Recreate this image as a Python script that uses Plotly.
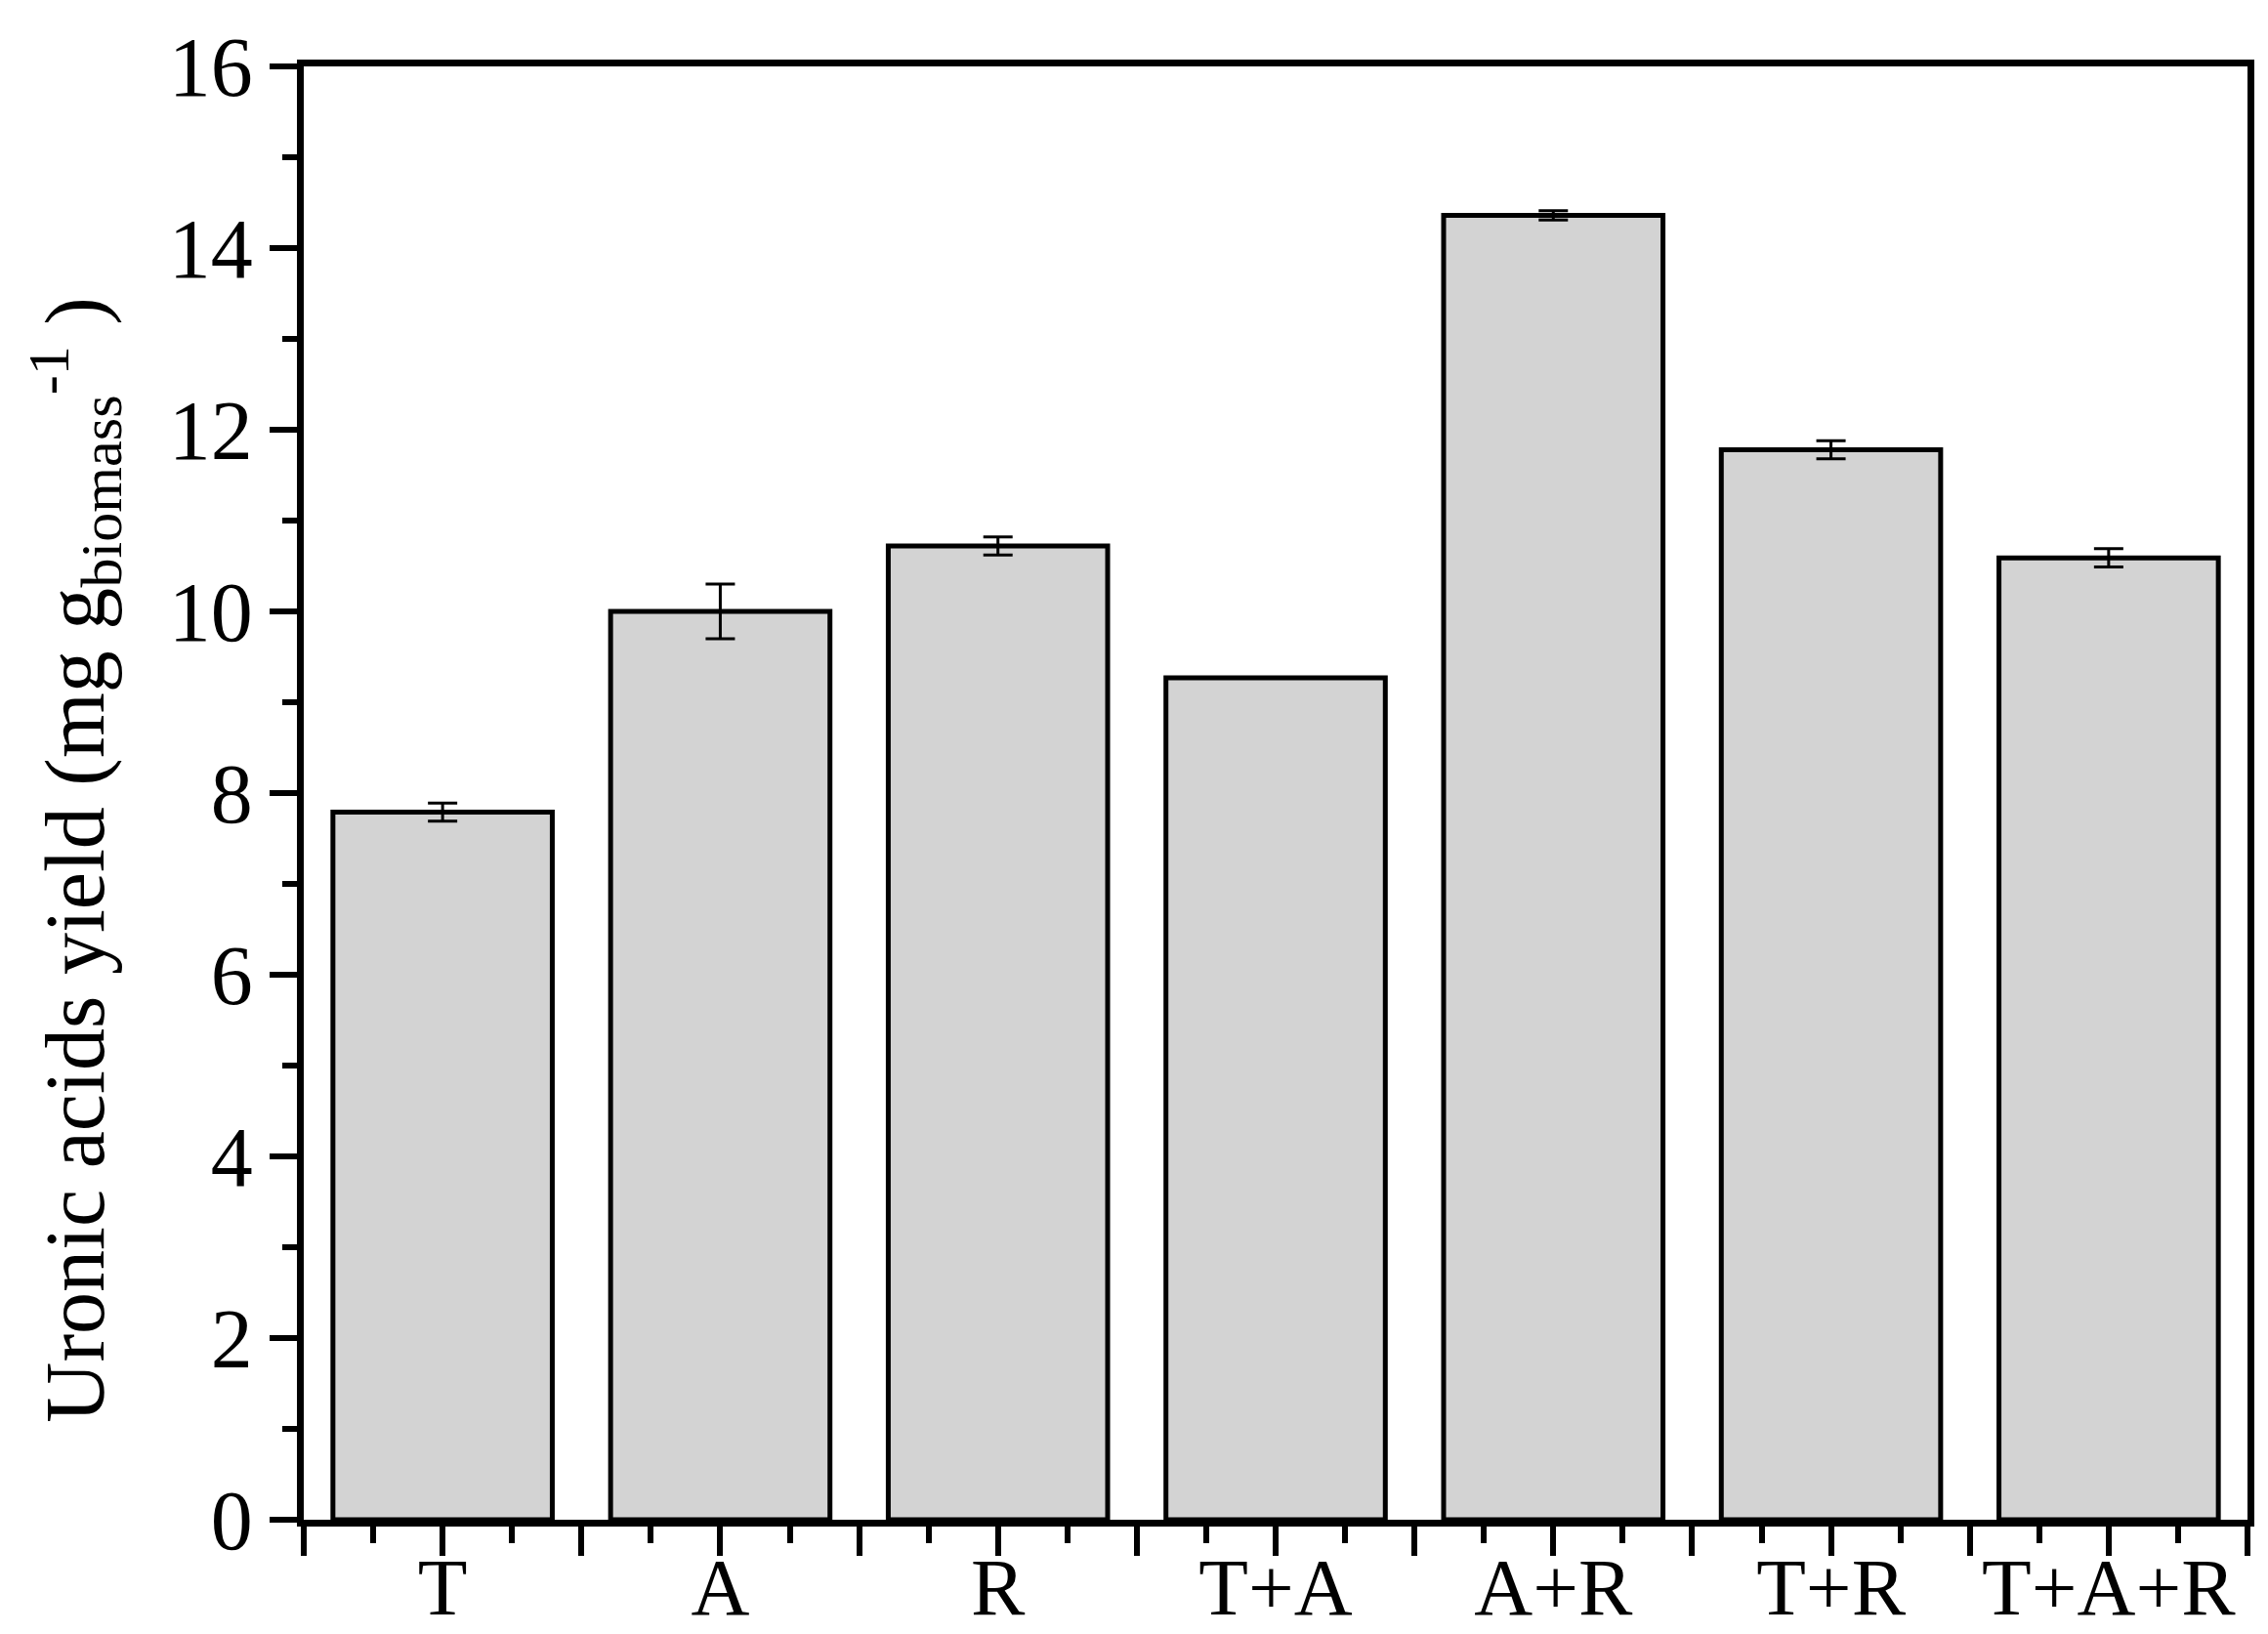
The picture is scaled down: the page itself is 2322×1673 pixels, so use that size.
import numpy as np
import plotly.graph_objects as go

categories = ['T', 'A', 'R', 'T+A', 'A+R', 'T+R', 'T+A+R']
yield_values = [7.79, 10.0, 10.72, 9.27, 14.36, 11.78, 10.59]
yield_errors = [0.10, 0.30, 0.10, 0.0, 0.05, 0.10, 0.10]

x_pos = list(range(len(categories)))
font_family = 'Liberation Serif, Times New Roman, serif'

fig = go.Figure(go.Bar(
    x=x_pos,
    y=yield_values,
    width=0.79,
    marker=dict(color='#d3d3d3', line=dict(color='black', width=5)),
    error_y=dict(type='data', array=yield_errors, color='black', thickness=3, width=15),
))

# major ticks at centres and at category boundaries, labels only at the centres
major_vals = list(np.arange(-0.5, len(categories), 0.5))
major_text = [categories[int(v)] if float(v).is_integer() else '' for v in major_vals]

fig.update_xaxes(
    range=[-0.5, len(categories) - 0.5],
    tickmode='array', tickvals=major_vals, ticktext=major_text,
    ticks='outside', ticklen=30, tickwidth=6, tickcolor='black',
    minor=dict(ticks='outside', ticklen=17, tickwidth=6, tickcolor='black',
               tickmode='linear', tick0=-0.25, dtick=0.5),
    showline=True, linewidth=7, linecolor='black', mirror=True,
    showgrid=False, zeroline=False, automargin=False,
    ticklabelstandoff=-40,
    tickfont=dict(family=font_family, size=83, color='black'),
)
fig.update_yaxes(
    range=[0, 16], dtick=2,
    ticks='outside', ticklen=28, tickwidth=6, tickcolor='black',
    minor=dict(ticks='outside', ticklen=15, tickwidth=6, tickcolor='black', dtick=1),
    showline=True, linewidth=7, linecolor='black', mirror=True,
    showgrid=False, zeroline=False, automargin=False,
    tickfont=dict(family=font_family, size=86, color='black'),
)

fig.add_annotation(
    text='Uronic acids yield (mg g<sub>biomass</sub><sup>-1</sup> )',
    xref='paper', yref='paper', x=-0.118, y=0.454,
    xanchor='center', yanchor='middle', textangle=-90, showarrow=False,
    font=dict(family=font_family, size=86, color='black'),
)

fig.update_layout(
    width=2322, height=1673,
    margin=dict(l=303, r=29, t=60, b=125),
    plot_bgcolor='white', paper_bgcolor='white',
    showlegend=False,
)

fig.write_html('out.html')
